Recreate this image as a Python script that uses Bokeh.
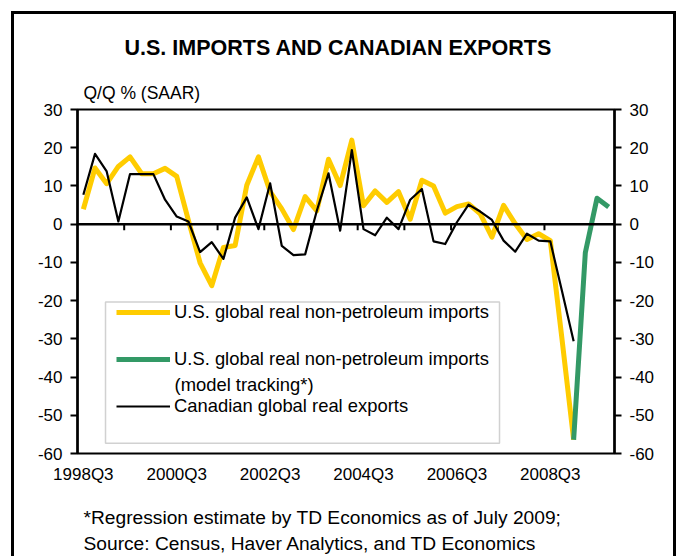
import numpy as np
from bokeh.plotting import figure
from bokeh.layouts import column
from bokeh.models import (Range1d, LinearAxis, FixedTicker, Span, Label, Legend,
                          LegendItem, BoxAnnotation, ColumnDataSource, Title)
from bokeh.embed import file_html
from bokeh.resources import INLINE

# ---------------- data ----------------
quarters = [f"{1998 + (q + 2) // 4}Q{(q + 2) % 4 + 1}" for q in range(46)]  # 1998Q3 .. 2009Q4

us_imports = [3.9, 14.7, 10.6, 15.1, 17.6, 13.2, 13.2, 14.6, 12.5, 1.0,
              -10.1, -16.1, -6.1, -5.6, 10.2, 17.6, 8.5, 4.0, -1.4, 7.2,
              3.5, 17.0, 10.1, 22.0, 4.8, 8.7, 5.7, 8.5, 1.3, 11.5,
              10.0, 2.9, 4.6, 5.3, 2.7, -3.4, 4.9, 0.1, -4.0, -2.5,
              -4.3, -30.0, -56.4]
us_model = [-56.4, -7.5, 6.8, 4.5]          # 2009Q1 .. 2009Q4 (model tracking)
can_exports = [7.7, 18.4, 13.8, 0.7, 13.1, 13.1, 13.1, 6.4, 2.0, 0.7,
               -7.3, -4.7, -9.1, 1.7, 7.0, -1.3, 10.7, -5.7, -8.1, -7.9,
               3.5, 13.3, -1.7, 19.4, -1.3, -2.9, 1.7, -1.3, 6.4, 9.2,
               -4.5, -5.2, 0.5, 5.1, 3.3, 1.1, -4.3, -7.2, -2.5, -4.3,
               -4.5, -17.5, -30.6]

x_tick_labels = ["1998Q3", "2000Q3", "2002Q3", "2004Q3", "2006Q3", "2008Q3"]
y_ticks = [-60, -50, -40, -30, -20, -10, 0, 10, 20, 30]

title_text = "U.S. IMPORTS AND CANADIAN EXPORTS"
unit_text = "Q/Q % (SAAR)"
legend_labels = ["U.S. global real non-petroleum imports",
                 "U.S. global real non-petroleum imports",
                 "(model tracking*)",
                 "Canadian global real exports"]
footnotes = ["*Regression estimate by TD Economics as of July 2009;",
             "Source: Census, Haver Analytics, and TD Economics"]

# ---------------- build columns ----------------
n = len(quarters)
idx = np.arange(n)
us_full = np.full(n, np.nan)
us_full[:len(us_imports)] = us_imports
model_full = np.full(n, np.nan)
model_full[n - len(us_model):] = us_model
can_full = np.full(n, np.nan)
can_full[:len(can_exports)] = can_exports
src = ColumnDataSource(dict(x=idx, us=us_full, model=model_full, can=can_full))

FONT = "Liberation Sans"
YELLOW = "#FFCC00"
GREEN = "#339966"

W = 680
MAIN_H = 490
FOOT_H = 66
FRAME_L, FRAME_R = 77, 614

p = figure(width=W, height=MAIN_H, output_backend="svg", toolbar_location=None,
           x_range=Range1d(-0.5, n - 0.5), y_range=Range1d(-60, 30),
           min_border_left=FRAME_L, min_border_right=W - FRAME_R, min_border_top=109,
           min_border_bottom=37)
p.xgrid.visible = False
p.ygrid.visible = False
p.outline_line_color = "black"
p.outline_line_width = 2
p.background_fill_color = "white"
p.border_fill_alpha = 0.0

# axes
def style_y(ax):
    ax.ticker = FixedTicker(ticks=y_ticks)
    ax.major_label_overrides = {t: str(t) for t in y_ticks}
    ax.axis_line_width = 2.5
    ax.axis_line_color = "black"
    ax.major_tick_line_width = 2
    ax.major_tick_line_color = "black"
    ax.major_tick_out = 7
    ax.major_tick_in = 0
    ax.minor_tick_line_color = None
    ax.major_label_text_font = FONT
    ax.major_label_text_font_size = "17px"
    ax.major_label_text_color = "black"
    ax.major_label_standoff = 8

style_y(p.yaxis[0])
right_ax = LinearAxis()
style_y(right_ax)
p.add_layout(right_ax, "right")

xax = p.xaxis[0]
tick_pos = [quarters.index(l) for l in x_tick_labels]
xax.ticker = FixedTicker(ticks=tick_pos)
xax.major_label_overrides = {t: l for t, l in zip(tick_pos, x_tick_labels)}
xax.axis_line_color = None
xax.major_tick_line_color = None
xax.minor_tick_line_color = None
xax.major_tick_out = 0
xax.major_tick_in = 0
xax.major_label_standoff = 11
xax.major_label_text_font = FONT
xax.major_label_text_font_size = "17px"
xax.major_label_text_color = "black"

# titles above the plot (first added sits closest to the frame)
p.add_layout(Title(text=unit_text, align="left", offset=6, vertical_align="middle",
                   standoff=11, text_font=FONT, text_font_size="17.5px",
                   text_font_style="normal", text_color="black"), "above")
p.add_layout(Title(text=title_text, align="left", offset=47, vertical_align="middle",
                   standoff=32, text_font=FONT, text_font_size="21.5px",
                   text_font_style="bold", text_color="black"), "above")

# zero line with yearly tick marks (between quarters)
p.add_layout(Span(location=0, dimension="width", line_color="black", line_width=2.5))
year_bounds = [i + 0.5 for i in idx[3:-1:4]]
p.segment(x0=year_bounds, y0=[0] * len(year_bounds), x1=year_bounds,
          y1=[-1.6] * len(year_bounds), line_color="black", line_width=2)

# series
r_us = p.line("x", "us", source=src, line_color=YELLOW, line_width=5, line_join="round")
r_model = p.line("x", "model", source=src, line_color=GREEN, line_width=5, line_join="round")
r_can = p.line("x", "can", source=src, line_color="black", line_width=2.2, line_join="round")

# legend box
p.add_layout(BoxAnnotation(left=1.9, right=35.65, top=-20.37, bottom=-57.34,
                           fill_color="white", fill_alpha=1.0,
                           line_color="#666666", line_width=1.5))

def make_legend(label, rend, loc):
    return Legend(items=[LegendItem(label=label, renderers=[rend])], location=loc,
                  border_line_color=None, background_fill_alpha=0.0, padding=0,
                  margin=0, spacing=0, glyph_width=54, glyph_height=22,
                  label_height=22, label_standoff=4, label_text_font=FONT,
                  label_text_font_size="18.4px", label_text_color="black")

p.add_layout(make_legend(legend_labels[0], r_us, (39, 130)))
p.add_layout(make_legend(legend_labels[1], r_model, (39, 83)))
p.add_layout(make_legend(legend_labels[3], r_can, (39, 36)))
p.add_layout(Label(x=7.81, y=-41.94, text=legend_labels[2], text_align="left",
                   text_baseline="middle", text_font=FONT, text_font_size="18.4px",
                   text_color="black"))

# footnote strip: its frame is aligned with the main frame by the column layout,
# so the x range is expressed in page pixels over that frame (y grows downward)
foot = figure(width=W, height=FOOT_H, output_backend="svg", toolbar_location=None,
              x_range=Range1d(FRAME_L, FRAME_R), y_range=Range1d(FOOT_H, 0),
              min_border=0, min_border_left=FRAME_L, min_border_right=W - FRAME_R,
              min_border_top=0, min_border_bottom=0,
              x_axis_location=None, y_axis_location=None)
foot.xgrid.visible = False
foot.ygrid.visible = False
foot.outline_line_color = None
foot.background_fill_alpha = 0.0
foot.border_fill_alpha = 0.0
for txt, yy in zip(footnotes, [27, 53]):
    foot.add_layout(Label(x=83, y=yy, text=txt, text_align="left", text_baseline="middle",
                          text_font=FONT, text_font_size="19.2px", text_color="black"))

layout = column(p, foot, spacing=0, styles={
    "box-shadow": "inset 11px 11px 0 0 white, inset -4px 0 0 0 white, "
                  "inset 14px 14px 0 0 black, inset -7px 0 0 0 black"})

open("out.html", "w").write(file_html(layout, INLINE))
